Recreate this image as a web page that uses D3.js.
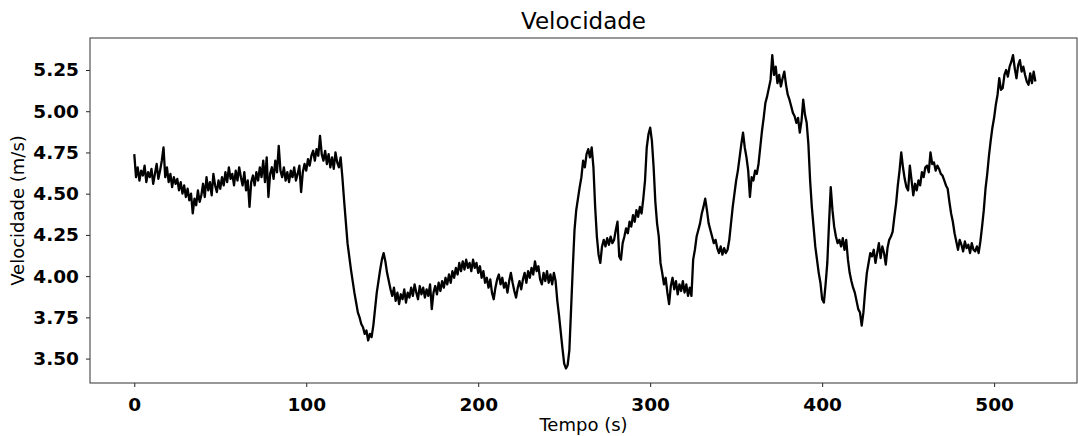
<!DOCTYPE html>
<html lang="en">

<head>
	<meta charset="UTF-8">
	<title>Velocidade</title>

	<style>
		body { margin: 0; background: white; }
		.tick text { font-family: "DejaVu Sans", sans-serif; font-weight: bold; font-size: 18.5px; fill: black; }
		.tick line { stroke: #222; }
		.domain { display: none; }
	</style>

	<script src="https://d3js.org/d3.v7.min.js"></script>
</head>

<body>
	<script type="text/javascript">
		let width = 1078;
		let height = 436;

		const vel000 = [4.74, 4.60, 4.66, 4.58, 4.64, 4.61, 4.67, 4.57, 4.63, 4.60,
			4.65, 4.56, 4.62, 4.68, 4.59, 4.64, 4.70, 4.78, 4.60, 4.66,
			4.57, 4.62, 4.54, 4.60, 4.56, 4.59, 4.52, 4.57, 4.50, 4.55,
			4.48, 4.53, 4.46, 4.50, 4.38, 4.47, 4.43, 4.52, 4.45, 4.49,
			4.56, 4.48, 4.60, 4.52, 4.57, 4.49, 4.62, 4.55, 4.51, 4.58,
			4.53, 4.60, 4.55, 4.63, 4.57, 4.66, 4.59, 4.62, 4.55, 4.64,
			4.58, 4.66, 4.60, 4.55, 4.63, 4.52, 4.58, 4.42, 4.57, 4.61,
			4.55, 4.63, 4.58, 4.66, 4.60, 4.70, 4.57, 4.72, 4.48, 4.62,
			4.66, 4.59, 4.70, 4.63, 4.79, 4.64, 4.60, 4.66, 4.58, 4.63,
			4.57, 4.64, 4.60, 4.66, 4.58, 4.62, 4.67, 4.51, 4.63, 4.68];
		const vel100 = [4.64, 4.71, 4.67, 4.73, 4.76, 4.70, 4.77, 4.73, 4.85, 4.74,
			4.70, 4.76, 4.68, 4.74, 4.66, 4.72, 4.65, 4.75, 4.69, 4.66,
			4.72, 4.60, 4.46, 4.33, 4.20, 4.12, 4.04, 3.97, 3.90, 3.84,
			3.78, 3.75, 3.71, 3.69, 3.65, 3.67, 3.61, 3.65, 3.63, 3.70,
			3.80, 3.90, 3.97, 4.04, 4.10, 4.14, 4.09, 4.02, 3.97, 3.92,
			3.88, 3.93, 3.85, 3.90, 3.83, 3.89, 3.86, 3.92, 3.84, 3.90,
			3.87, 3.93, 3.88, 3.95, 3.90, 3.86, 3.94, 3.89, 3.93, 3.87,
			3.92, 3.88, 3.95, 3.80, 3.90, 3.94, 3.89, 3.96, 3.91, 3.97,
			3.93, 3.99, 3.95, 4.01, 3.96, 4.03, 3.99, 4.05, 4.01, 4.08,
			4.03, 4.09, 4.04, 4.10, 4.05, 4.08, 4.03, 4.10, 4.05, 4.08];
		const vel200 = [4.02, 4.06, 3.99, 4.03, 3.96, 3.99, 3.93, 3.98, 3.90, 3.86,
			3.93, 3.98, 4.01, 3.95, 3.99, 3.93, 3.96, 3.90, 3.97, 4.02,
			3.96, 3.91, 3.87, 3.93, 3.97, 3.92, 3.98, 4.02, 3.96, 4.03,
			3.99, 4.05, 4.01, 4.09, 4.03, 4.06, 3.98, 3.95, 4.02, 3.97,
			4.03, 3.96, 4.01, 3.95, 4.02, 3.97, 3.85, 3.76, 3.66, 3.56,
			3.47, 3.44, 3.46, 3.55, 3.80, 4.05, 4.28, 4.40, 4.47, 4.54,
			4.60, 4.70, 4.66, 4.74, 4.77, 4.72, 4.78, 4.66, 4.42, 4.24,
			4.13, 4.08, 4.18, 4.22, 4.18, 4.23, 4.19, 4.24, 4.20, 4.22,
			4.28, 4.33, 4.12, 4.10, 4.20, 4.24, 4.29, 4.26, 4.33, 4.30,
			4.37, 4.33, 4.40, 4.36, 4.42, 4.38, 4.47, 4.58, 4.78, 4.86];
		const vel300 = [4.90, 4.82, 4.66, 4.45, 4.32, 4.24, 4.08, 4.02, 3.95, 3.99,
			3.90, 3.83, 3.94, 3.99, 3.92, 3.97, 3.89, 3.95, 3.91, 3.97,
			3.90, 3.95, 3.88, 3.93, 3.88, 4.10, 4.16, 4.24, 4.28, 4.32,
			4.38, 4.42, 4.47, 4.40, 4.32, 4.28, 4.24, 4.20, 4.22, 4.17,
			4.14, 4.18, 4.13, 4.17, 4.14, 4.16, 4.22, 4.32, 4.42, 4.50,
			4.58, 4.64, 4.72, 4.80, 4.87, 4.78, 4.72, 4.64, 4.48, 4.60,
			4.58, 4.64, 4.62, 4.68, 4.78, 4.88, 4.96, 5.05, 5.09, 5.14,
			5.19, 5.34, 5.22, 5.27, 5.17, 5.22, 5.15, 5.20, 5.24, 5.16,
			5.10, 5.07, 5.03, 4.99, 4.97, 4.93, 4.96, 4.87, 4.94, 5.07,
			4.98, 4.93, 4.80, 4.58, 4.42, 4.30, 4.18, 4.10, 4.02, 3.96];
		const vel400 = [3.86, 3.84, 3.95, 4.08, 4.32, 4.54, 4.40, 4.30, 4.24, 4.20,
			4.22, 4.18, 4.23, 4.16, 4.22, 4.10, 4.02, 3.97, 3.93, 3.90,
			3.85, 3.80, 3.78, 3.70, 3.78, 3.91, 4.02, 4.08, 4.14, 4.12,
			4.16, 4.08, 4.14, 4.20, 4.11, 4.18, 4.14, 4.07, 4.17, 4.22,
			4.24, 4.27, 4.36, 4.44, 4.55, 4.64, 4.75, 4.66, 4.59, 4.54,
			4.52, 4.67, 4.58, 4.49, 4.56, 4.52, 4.58, 4.55, 4.63, 4.60,
			4.66, 4.67, 4.63, 4.75, 4.68, 4.69, 4.64, 4.67, 4.65, 4.62,
			4.61, 4.58, 4.55, 4.53, 4.45, 4.38, 4.33, 4.26, 4.21, 4.16,
			4.22, 4.19, 4.15, 4.21, 4.17, 4.19, 4.14, 4.20, 4.16, 4.15,
			4.18, 4.14, 4.21, 4.30, 4.40, 4.53, 4.62, 4.73, 4.82, 4.90];
		const vel500 = [4.96, 5.04, 5.10, 5.20, 5.13, 5.14, 5.22, 5.25, 5.21, 5.27,
			5.30, 5.34, 5.26, 5.20, 5.28, 5.31, 5.24, 5.27, 5.22, 5.18,
			5.16, 5.23, 5.17, 5.24, 5.18];

		const velocity = [].concat(vel000, vel100, vel200, vel300, vel400, vel500);
		const dataset = velocity.map((v, i) => ({ t: i, v: v }));

		const xTicks = [0, 100, 200, 300, 400, 500];
		const yTicks = [3.50, 3.75, 4.00, 4.25, 4.50, 4.75, 5.00, 5.25];

		const margin = { left: 90, right: 1077, top: 38, bottom: 383 };

		const svg = d3.select("body").append("svg")
			.attr("width", width)
			.attr("height", height);

		const x = d3.scaleLinear()
			.domain([-25.75, 548.2])
			.range([margin.left, margin.right]);

		const y = d3.scaleLinear()
			.domain([3.352, 5.444])
			.range([margin.bottom, margin.top]);

		// x axis
		svg.append("g")
			.attr("transform", "translate(0," + margin.bottom + ")")
			.call(d3.axisBottom(x).tickValues(xTicks).tickSize(4).tickPadding(6).tickFormat(d3.format("d")))
			.selectAll("text").attr("dy", "0.95em");

		// y axis
		svg.append("g")
			.attr("transform", "translate(" + margin.left + ",0)")
			.call(d3.axisLeft(y).tickValues(yTicks).tickSize(4).tickPadding(7).tickFormat(d3.format(".2f")));

		// the line
		const line = d3.line()
			.x(function(d) { return x(d.t); })
			.y(function(d) { return y(d.v); });

		svg.append("path")
			.datum(dataset)
			.attr("d", line)
			.style("fill", "none")
			.style("stroke", "black")
			.style("stroke-width", 2.3)
			.style("stroke-linejoin", "round");

		// frame
		svg.append("rect")
			.attr("x", margin.left)
			.attr("y", margin.top)
			.attr("width", margin.right - margin.left)
			.attr("height", margin.bottom - margin.top)
			.style("fill", "none")
			.style("stroke", "#333")
			.style("stroke-width", 1);

		// title and labels
		svg.append("text")
			.attr("x", (margin.left + margin.right) / 2)
			.attr("y", 29)
			.attr("text-anchor", "middle")
			.style("font-family", "DejaVu Sans")
			.style("font-size", "23px")
			.text("Velocidade");

		svg.append("text")
			.attr("x", (margin.left + margin.right) / 2)
			.attr("y", 431)
			.attr("text-anchor", "middle")
			.style("font-family", "DejaVu Sans")
			.style("font-size", "18px")
			.text("Tempo (s)");

		svg.append("text")
			.attr("transform", "translate(24," + ((margin.top + margin.bottom) / 2) + ") rotate(-90)")
			.attr("text-anchor", "middle")
			.style("font-family", "DejaVu Sans")
			.style("font-size", "18px")
			.text("Velocidade (m/s)");
	</script>
</body>

</html>
